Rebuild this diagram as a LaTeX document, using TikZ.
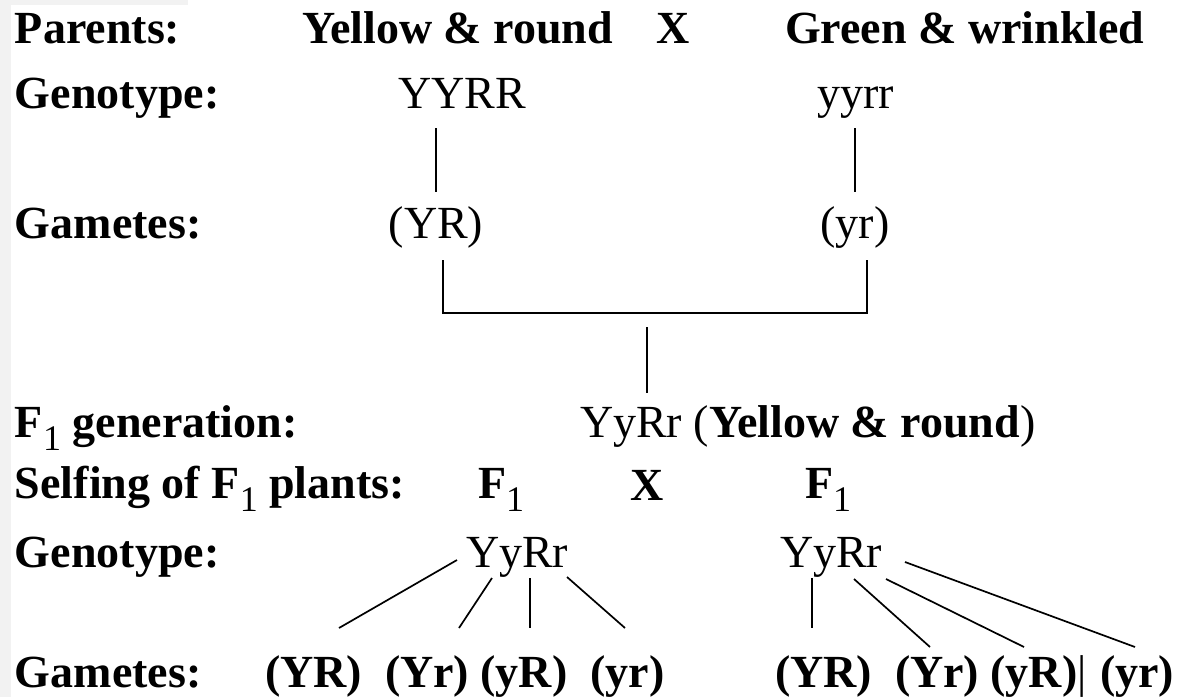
\documentclass[tikz,border=0pt]{standalone}
\usepackage{fontspec}
\setmainfont{Liberation Serif}

\newcommand\fsub[1]{\raisebox{-13pt}{\fontsize{36}{36}\selectfont\mdseries #1}}

\begin{document}
\begin{tikzpicture}[x=1pt, y=-1pt,
    every node/.style={inner sep=0pt, outer sep=0pt, anchor=base west,
        font=\fontsize{46}{50}\selectfont},
    head/.style={font=\fontsize{46}{50}\selectfont\bfseries},
    tie/.style={line width=2.3pt},
    fork/.style={line width=1.7pt}]

    \useasboundingbox (0,0) rectangle (1179,697);
    \fill[black!5] (0,0) rectangle (11,697);
    \fill[black!5] (0,0) rectangle (188,5);

    % the parents
    \node[head] (parents) at (15,43) {Parents:};
    \node[head] (ylwrnd) at (302,43) {Yellow \& round};
    \node[head, anchor=base] (crossA) at (673,43) {X};
    \node[head] (grnwrk) at (785,43) {Green \& wrinkled};

    \node[head] (genoA) at (15,108) {Genotype:};
    \node (pYYRR) at (398,108) {YYRR};
    \node (pyyrr) at (817,108) {yyrr};

    \node[head] (gametA) at (15,238) {Gametes:};
    \node[anchor=base] (gYR) at (436,238) {(YR)};
    \node[anchor=base] (gyr) at (855,238) {(yr)};

    \draw[tie] ([xshift=38pt,yshift=-20pt]pYYRR.base west) -- ([yshift=46pt]gYR.base);
    \draw[tie] ([xshift=38pt,yshift=-20pt]pyyrr.base west) -- ([yshift=46pt]gyr.base);

    % the cross
    \draw[tie] ([xshift=7pt,yshift=-22pt]gYR.base) -- ++(0,53) -| ([xshift=12pt,yshift=-22pt]gyr.base);

    % F1
    \node[head] (f1gen) at (15,437) {F\fsub{1} generation:};
    \node (hyb) at (580,437) {YyRr (\textbf{Yellow \& round})};
    \draw[tie] ([xshift=67pt,yshift=110pt]hyb.base west) -- ([xshift=67pt,yshift=44pt]hyb.base west);

    \node[head] (selfing) at (15,498) {Selfing of F\fsub{1} plants:};
    \node[head] (f1A) at (478,498) {F\fsub{1}};
    \node[head, anchor=base] (crossB) at (647,500) {X};
    \node[head] (f1B) at (805,498) {F\fsub{1}};

    \node[head] (genoB) at (15,567) {Genotype:};
    \node (yyA) at (466,567) {YyRr};
    \node (yyB) at (780,567) {YyRr};

    % gametes of the F1 plants
    \node[head] (gametB) at (15,687) {Gametes:};
    \node[head] (gA1) at (265,687) {(YR)};
    \node[head] (gA2) at (385,687) {(Yr)};
    \node[head] (gA3) at (480.5,687) {(yR)};
    \node[head] (gA4) at (590.5,687) {(yr)};

    \node[head] (gB1) at (775,687) {(YR)};
    \node[head] (gB2) at (895,687) {(Yr)};
    \node[head] (gB3) at (990.5,687) {(yR)};
    \node (bar) at (1077.5,687) {|};
    \node[head] (gB4) at (1100,687) {(yr)};

    \draw[fork] ([xshift=-9pt,yshift=7pt]yyA.base west) -- ([xshift=74pt,yshift=59pt]gA1.base west);
    \draw[fork] ([xshift=26pt,yshift=-11pt]yyA.base west) -- ([xshift=74pt,yshift=59pt]gA2.base west);
    \draw[tie] ([xshift=64pt,yshift=-11pt]yyA.base west) -- ([xshift=49.5pt,yshift=59pt]gA3.base west);
    \draw[fork] ([xshift=101pt,yshift=-10pt]yyA.base west) -- ([xshift=34.5pt,yshift=59pt]gA4.base west);

    \draw[tie] ([xshift=32pt,yshift=-11pt]yyB.base west) -- ([xshift=37pt,yshift=59pt]gB1.base west);
    \draw[fork] ([xshift=74pt,yshift=-12pt]yyB.base west) -- ([xshift=35pt,yshift=40pt]gB2.base west);
    \draw[fork] ([xshift=106pt,yshift=-12pt]yyB.base west) -- ([xshift=33.5pt,yshift=40pt]gB3.base west);
    \draw[fork] ([xshift=125pt,yshift=5pt]yyB.base west) -- ([xshift=35pt,yshift=40pt]gB4.base west);

\end{tikzpicture}
\end{document}
